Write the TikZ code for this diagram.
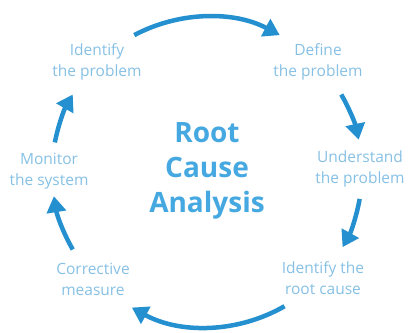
\documentclass[tikz,border=0pt]{standalone}
\usepackage{fontspec}
\setmainfont{Open Sans}
\usetikzlibrary{positioning,arrows.meta,calc}
\definecolor{rcaarrow}{HTML}{2490D0}
\definecolor{rcatitle}{HTML}{45A8E0}
\definecolor{rcastep}{HTML}{86C0E4}
\tikzset{stepnode/.style={text=rcastep, align=center, font=\fontsize{15.5}{21}\selectfont, inner sep=0pt},
cycarrow/.style={draw=rcaarrow, line width=4.5pt, -{Triangle[width=19pt,length=16pt]}}}

\begin{document}
\begin{tikzpicture}[x=1pt,y=1pt]
\useasboundingbox (0,0) rectangle (409,332);
\coordinate (c) at (207,160);
\node[text=rcatitle, align=center, font=\bfseries\fontsize{28}{35}\selectfont] (title) at (207,161) {Root\\Cause\\Analysis};
\node[stepnode] (identify) at (97,270) {Identify\\the problem};
\node[stepnode] (define) at (318,270) {Define\\the problem};
\node[stepnode] (understand) at (360,163) {Understand\\the problem};
\node[stepnode] (rootcause) at (323,54) {Identify the\\root cause};
\node[stepnode] (corrective) at (93,53) {Corrective\\measure};
\node[stepnode] (monitor) at (49,161) {Monitor\\the system};
\foreach \a/\b/\n in {118/62/1, 30/12/2, -10/-29/3, -60/-119/4, 210/189/5, 169/150/6}
  \coordinate (s\n) at ($(c)+(\a:155)$);
\draw[cycarrow] (s1) arc[start angle=118, end angle=62, radius=155];
\draw[cycarrow] (s2) arc[start angle=30, end angle=12, radius=155];
\draw[cycarrow] (s3) arc[start angle=-10, end angle=-29, radius=155];
\draw[cycarrow] (s4) arc[start angle=-60, end angle=-119, radius=155];
\draw[cycarrow] (s5) arc[start angle=210, end angle=189, radius=155];
\draw[cycarrow] (s6) arc[start angle=169, end angle=150, radius=155];
\end{tikzpicture}
\end{document}
